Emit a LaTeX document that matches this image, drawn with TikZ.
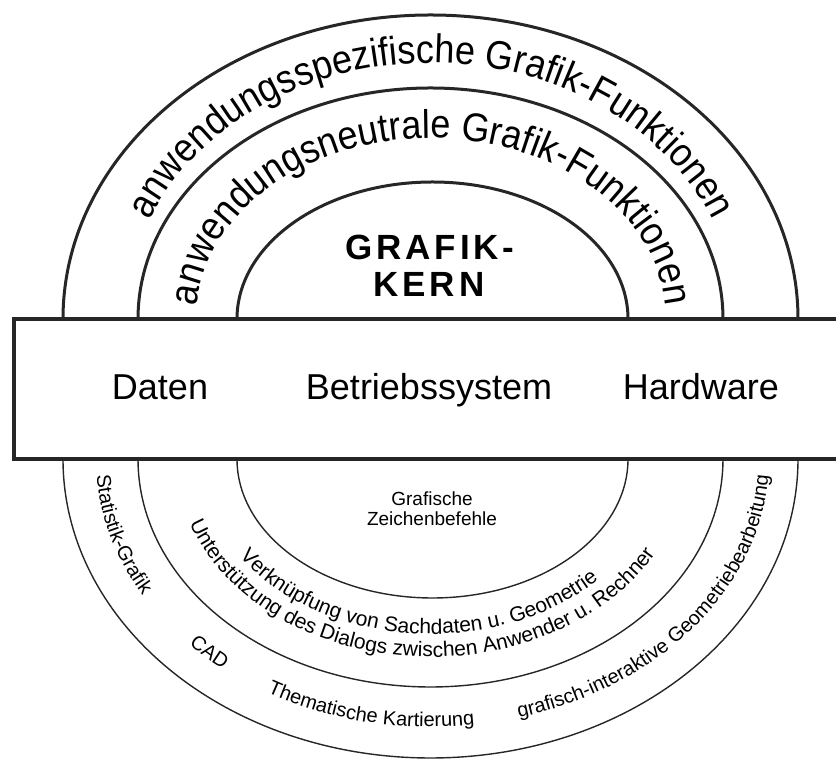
\documentclass[tikz,border=0pt]{standalone}
\usepackage{fontspec}
\setmainfont{Liberation Sans}
\newfontfamily\archfont{Liberation Sans}[FakeStretch=0.9]
\usetikzlibrary{decorations.text}
\newcommand\bandfont{\archfont\fontsize{40}{45}\selectfont}
\newcommand\boxfont{\fontsize{36}{40}\selectfont}
\newcommand\smallfont{\fontsize{19}{20}\selectfont}
\newcommand\curvefont{\fontsize{20}{22}\selectfont}
\newcommand\midfont{\fontsize{21}{23}\selectfont}

\begin{document}
\begin{tikzpicture}[
   x=1pt, y=1pt,
   arch/.style={line width=3pt, black!85},
   lowarch/.style={line width=1.4pt, black!85},
   band/.style={line width=4pt, black!85},
   boxlabel/.style={anchor=base, inner sep=0pt, font=\boxfont},
   kernlabel/.style={anchor=base, inner sep=0pt,
               font=\fontsize{35}{37}\bfseries\addfontfeature{LetterSpace=11}},
]
\useasboundingbox (0,0) rectangle (836,759);
% upper arches
\draw[arch] (63,440) arc[start angle=180, end angle=0, x radius=367.5pt, y radius=304pt];
\draw[arch] (138,440) arc[start angle=180, end angle=0, x radius=292.5pt, y radius=231pt];
\draw[arch] (237,440) arc[start angle=180, end angle=0, x radius=195.5pt, y radius=137pt];
% lower arches
\draw[lowarch] (63,300) arc[start angle=180, end angle=360, x radius=367.5pt, y radius=299pt];
\draw[lowarch] (138,300) arc[start angle=180, end angle=360, x radius=292.5pt, y radius=228pt];
\draw[lowarch] (237,300) arc[start angle=180, end angle=360, x radius=195.5pt, y radius=139pt];
% band
\draw[band] (836,440) -| (14,300) -- (836,300);
\node[boxlabel] (daten) at (160,359) {Daten};
\node[boxlabel] (betrieb) at (429,359) {Betriebssystem};
\node[boxlabel] (hardware) at (701,359) {Hardware};
% kernel
\node[kernlabel] (grafik) at (430,499) {GRAFIK-};
\node[kernlabel] (kern) at (429,462) {KERN};
\node[align=center, inner sep=0pt, font=\smallfont] (zeichen) at (432,250)
  {Grafische\\Zeichenbefehle};
% texts upper
\path[decorate, decoration={text along path, text align=center,
      text={|\bandfont|anwendungsspezifische Grafik-Funktionen}}]
  (431,440) ++(180:305pt and 256pt) arc[start angle=180, end angle=0, x radius=305pt, y radius=256pt];
\path[decorate, decoration={text along path, text align=center,
      text={|\bandfont|anwendungsneutrale Grafik-Funktionen}}]
  (431,440) ++(180:235pt and 181pt) arc[start angle=180, end angle=0, x radius=235pt, y radius=181pt];
% texts lower
\path[decorate, decoration={text along path, text align=center,
      text={|\midfont|Verknüpfung von Sachdaten u. Geometrie}}]
  (431,300) ++(203:231pt and 175pt) arc[start angle=203, end angle=327, x radius=231pt, y radius=175pt];
\path[decorate, decoration={text along path, text align=center,
      text={|\midfont|Unterstützung des Dialogs zwischen Anwender u. Rechner}}]
  (431,300) ++(188:255pt and 198pt) arc[start angle=188, end angle=342, x radius=255pt, y radius=198pt];
\path[decorate, decoration={text along path, text align=center,
      text={|\curvefont|Statistik-Grafik}}]
  (431,300) ++(181:335pt and 268pt) arc[start angle=181, end angle=213, x radius=335pt, y radius=268pt];
\path[decorate, decoration={text along path, text align=center,
      text={|\curvefont|CAD}}]
  (431,300) ++(217:335pt and 268pt) arc[start angle=217, end angle=238, x radius=335pt, y radius=268pt];
\path[decorate, decoration={text along path, text align=center,
      text={|\curvefont|Thematische Kartierung}}]
  (431,300) ++(237:335pt and 268pt) arc[start angle=237, end angle=281, x radius=335pt, y radius=268pt];
\path[decorate, decoration={text along path, text align=center,
      text={|\curvefont|grafisch-interaktive Geometriebearbeitung}}]
  (431,300) ++(283:338pt and 268pt) arc[start angle=283, end angle=359, x radius=338pt, y radius=268pt];
\end{tikzpicture}
\end{document}
